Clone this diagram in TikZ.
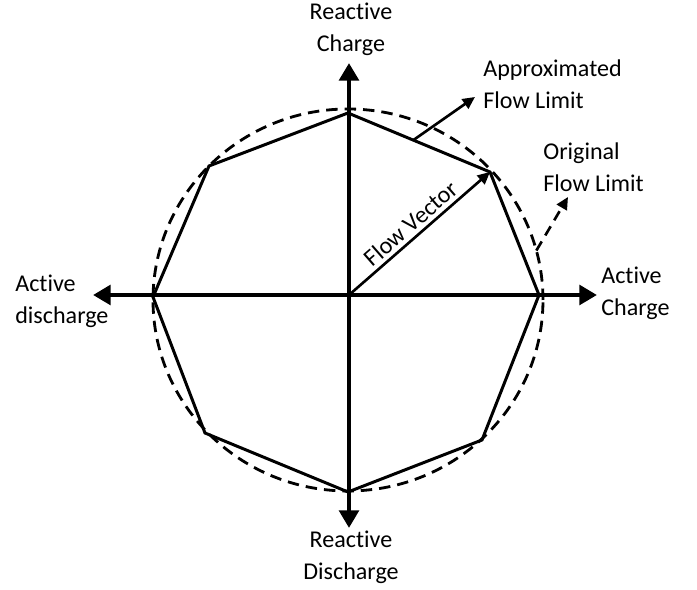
\documentclass[tikz,border=0pt]{standalone}
\usepackage{fontspec}
\setmainfont[Ligatures=NoCommon]{Carlito}
\usetikzlibrary{arrows.meta, calc}

\begin{document}
\begin{tikzpicture}[x=0.02cm, y=0.02cm, font=\fontsize{13.7}{18.1}\selectfont,
		axis/.style={line width=2.8pt, -{Triangle[length=10pt,width=11pt]}},
		edge/.style={line width=1.7pt, line join=miter},
		limit/.style={line width=1.6pt, dash pattern=on 6.5pt off 4pt},
		pointer/.style={line width=1.5pt, -{Triangle[length=7pt,width=6.5pt]}},
		lbl/.style={inner sep=0pt, align=left}]
			\useasboundingbox (-349,-295) rectangle (348,295);
			\coordinate (o) at (0,0);
			\coordinate (t) at (-1,182);
			\coordinate (ne) at (141,123);
			\coordinate (e) at (190,0);
			\coordinate (se) at (133,-145);
			\coordinate (s) at (-1,-197);
			\coordinate (sw) at (-144,-138);
			\coordinate (w) at (-196,-2);
			\coordinate (nw) at (-140,129);
			\coordinate (up) at (0,232);
			\coordinate (dn) at (0,-233);
			\coordinate (lt) at (-256,0);
			\coordinate (rt) at (248,0);
			\draw[limit] (-1,-5) ellipse [x radius=195, y radius=191];
			\draw[edge] (t) -- (ne) -- (e) -- (se) -- (s) -- (sw) -- (w) -- (nw) -- cycle;
			\draw[axis] (o) -- (up);
			\draw[axis] (o) -- (dn);
			\draw[axis] (o) -- (lt);
			\draw[axis] (o) -- (rt);
			\node[lbl, align=center] at (2,266) (rc){Reactive\\Charge};
			\node[lbl, align=center] at (2,-262) (rd){Reactive\\Discharge};
			\node[lbl, anchor=west] at (-334,-6) (ad){Active\\discharge};
			\node[lbl, anchor=west] at (252,2) (ac){Active\\Charge};
			\node[lbl, anchor=west] at (134,211) (afl){Approximated\\Flow Limit};
			\node[lbl, anchor=west] at (194,128) (ofl){Original\\Flow Limit};
			\coordinate (apx) at ($(t)!0.46!(ne)$);
			\coordinate (org) at ([shift={(-1,-5)}]15:195 and 191);
			\coordinate (apxend) at (126,198);
			\coordinate (orgend) at (219,98);
			\draw[pointer] (o) -- node[above, sloped, pos=0.5, inner sep=2pt]{Flow Vector} (ne);
			\draw[pointer] (apx) -- (apxend);
			\draw[pointer, dash pattern=on 6pt off 4pt] (org) -- (orgend);
		\end{tikzpicture}
\end{document}
